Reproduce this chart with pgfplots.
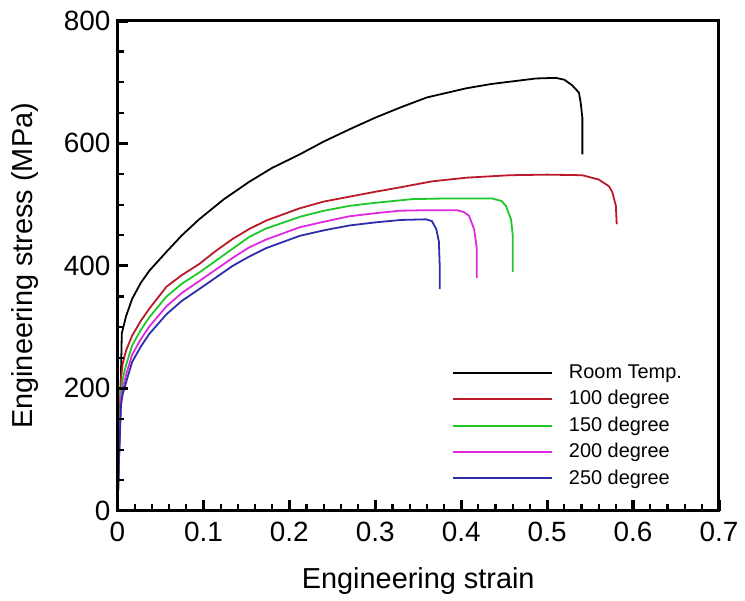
\documentclass[border=0pt]{standalone}
\usepackage{fontspec}
\setmainfont{Liberation Sans}
\usepackage{pgfplots}
\pgfplotsset{compat=1.18}

\definecolor{cRT}{RGB}{0,0,0}
\definecolor{c100}{RGB}{185,25,40}
\definecolor{c150}{RGB}{30,200,40}
\definecolor{c200}{RGB}{225,40,225}
\definecolor{c250}{RGB}{45,45,170}

\begin{document}
\begin{tikzpicture}
\begin{axis}[
    scale only axis, width=302pt, height=246pt,
    xmin=0, xmax=0.7, ymin=0, ymax=800,
    xtick={0,0.1,0.2,0.3,0.4,0.5,0.6,0.7}, ytick={0,200,400,600,800},
    minor x tick num=4, minor y tick num=3,
    tick pos=left, tick align=inside,
    major tick length=5.5pt, minor tick length=3.5pt,
    major tick style={line width=1.6pt, black},
    minor tick style={line width=1.1pt, black},
    axis line style={line width=1.5pt},
    axis on top,
    /pgf/number format/assume math mode=true,
    /pgf/number format/fixed,
    tick label style={font=\fontsize{14}{15}\selectfont},
    xticklabel style={yshift=-2pt},
    label style={font=\fontsize{14.5}{16}\selectfont},
    xlabel={Engineering strain}, ylabel={Engineering stress (MPa)},
    xlabel style={yshift=-6pt}, ylabel style={yshift=6pt},
    legend style={draw=none, fill=none, at={(0.545,0.315)}, anchor=north west,
        font=\fontsize{10}{11}\selectfont, row sep=0.5pt},
    legend cell align=left,
    legend image code/.code={\draw[#1] (0pt,0pt) -- (50pt,0pt); \path (56pt,0pt);},
    every axis plot/.append style={line width=0.9pt},
]
\addplot[cRT] coordinates {
(0,0) (0.003,150) (0.005,290) (0.01,318) (0.017,346) (0.027,372) (0.037,392)
(0.057,423) (0.075,450) (0.095,476) (0.124,509) (0.153,537) (0.18,560)
(0.212,582) (0.24,603) (0.27,623) (0.30,642) (0.328,658) (0.36,675)
(0.406,690) (0.435,697) (0.464,702) (0.487,706) (0.51,707) (0.52,704)
(0.529,695) (0.537,683) (0.539,667) (0.541,642) (0.541,582)};
\addlegendentry{Room Temp.}
\addplot[c100] coordinates {
(0,0) (0.002,120) (0.004,215) (0.006,240) (0.01,262) (0.017,286) (0.027,310)
(0.037,330) (0.057,366) (0.075,385) (0.095,403) (0.115,425) (0.134,444)
(0.153,460) (0.173,474) (0.212,494) (0.24,505) (0.27,513) (0.30,521)
(0.328,528) (0.366,538) (0.406,544) (0.456,548) (0.50,549) (0.541,548)
(0.56,541) (0.572,530) (0.576,520) (0.58,498) (0.581,468)};
\addlegendentry{100 degree}
\addplot[c150] coordinates {
(0,0) (0.002,110) (0.004,195) (0.006,215) (0.01,238) (0.017,270) (0.027,295)
(0.037,316) (0.057,350) (0.075,371) (0.095,389) (0.134,428) (0.153,447)
(0.173,461) (0.212,480) (0.24,490) (0.27,498) (0.30,503) (0.343,509)
(0.38,510) (0.436,510) (0.447,506) (0.452,498) (0.458,476) (0.46,450) (0.46,390)};
\addlegendentry{150 degree}
\addplot[c200] coordinates {
(0,0) (0.002,100) (0.004,182) (0.006,200) (0.01,222) (0.017,255) (0.027,280)
(0.037,301) (0.057,334) (0.075,356) (0.095,375) (0.134,413) (0.153,430)
(0.173,443) (0.212,463) (0.24,472) (0.27,481) (0.30,486) (0.328,490)
(0.36,491) (0.395,491) (0.403,488) (0.409,482) (0.415,460) (0.418,430) (0.418,380)};
\addlegendentry{200 degree}
\addplot[c250] coordinates {
(0,0) (0.002,95) (0.004,172) (0.006,190) (0.01,210) (0.017,243) (0.027,268)
(0.037,289) (0.057,321) (0.075,343) (0.095,362) (0.134,400) (0.153,415)
(0.173,429) (0.212,449) (0.24,458) (0.27,466) (0.30,471) (0.33,475)
(0.359,476) (0.366,473) (0.371,460) (0.374,440) (0.375,400) (0.375,362)};
\addlegendentry{250 degree}
\end{axis}
\useasboundingbox (-59pt,-45pt) rectangle (313.5pt,256.5pt);
\end{tikzpicture}
\end{document}
